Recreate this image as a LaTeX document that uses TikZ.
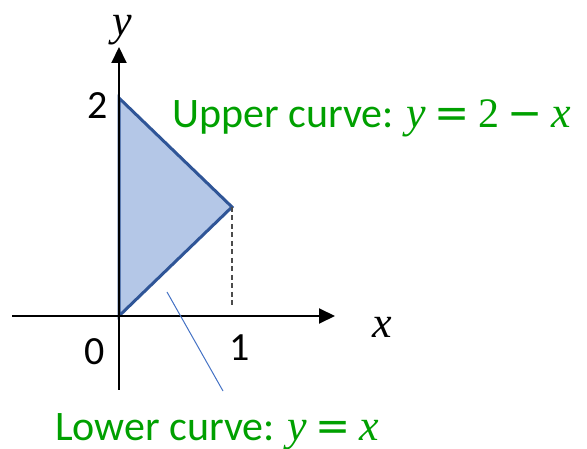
\documentclass[tikz,border=0pt]{standalone}
\usepackage{fontspec}
\setmainfont{Carlito}
\newfontfamily\mfont{Liberation Serif}
\newfontfamily\ofont{DejaVu Sans}
\newcommand{\mv}[1]{{\mfont\itshape\fontsize{44}{48}\selectfont #1}}
\newcommand{\mo}[1]{{\ofont\hspace{0.2em}#1\hspace{0.2em}}}
\usetikzlibrary{arrows.meta}
\definecolor{triline}{HTML}{2F5597}
\definecolor{trifill}{HTML}{B4C7E7}
\definecolor{ptr}{HTML}{4472C4}
\definecolor{lblgreen}{HTML}{00A000}
\tikzset{
  axis/.style={line width=2pt, black, -{Triangle[length=16pt,width=15pt]}},
  region/.style={line width=3pt, triline, fill=trifill, line join=miter},
  guide/.style={line width=1.5pt, black!70, dash pattern=on 5pt off 3.5pt},
  pointer/.style={line width=1pt, ptr},
  numlbl/.style={font=\fontsize{40}{44}\selectfont, inner sep=0pt},
  curvelbl/.style={font=\fontsize{42}{46}\selectfont, text=lblgreen, inner sep=0pt, anchor=base west},
  axlbl/.style={inner sep=0pt}
}
\begin{document}
\begin{tikzpicture}[x=1pt,y=-1pt]
\useasboundingbox (0,0) rectangle (587,449);
\coordinate (O) at (119,316);
\coordinate (A) at (119,98);
\coordinate (B) at (232,207);
\coordinate (Bf) at (232,307);
\coordinate (ybot) at (119,390);
\coordinate (ytop) at (119,47);
\coordinate (xl) at (12,316);
\coordinate (xr) at (335,316);
\coordinate (p1) at (167,292);
\coordinate (p2) at (223,391);
\draw[region] (O) -- (A) -- (B) -- cycle;
\draw[guide] (B) -- (Bf);
\draw[axis] (ybot) -- (ytop);
\draw[axis] (xl) -- (xr);
\draw[pointer] (p1) -- (p2);
\node[axlbl] (ylab) at (122,30) {\mv{y}};
\node[axlbl] (xlab) at (382,327) {\mv{x}};
\node[numlbl] (two) at (98,106) {2};
\node[numlbl] (zero) at (95,352) {0};
\node[numlbl] (one) at (240,348) {1};
\node[curvelbl] (upper) at (172,128) {Upper curve: \mv{y}\mo{=}{\mfont 2}\mo{−}\mv{x}};
\node[curvelbl] (lower) at (55,440) {Lower curve: \mv{y}\mo{=}\mv{x}};
\end{tikzpicture}
\end{document}
